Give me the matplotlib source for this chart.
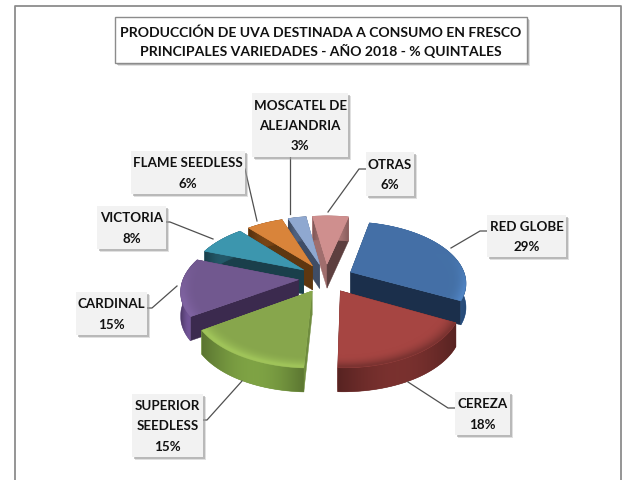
import numpy as np
import matplotlib
matplotlib.use("Agg")
import matplotlib.pyplot as plt
from matplotlib.colors import to_rgb
from matplotlib.patches import Polygon, Rectangle

# values, clockwise from the top
categories = ["RED GLOBE", "CEREZA", "SUPERIOR\nSEEDLESS", "CARDINAL", "VICTORIA",
              "FLAME SEEDLESS", "MOSCATEL DE\nALEJANDRIA", "OTRAS"]
values = [29, 18, 15, 15, 8, 6, 3, 6]

title = "PRODUCCIÓN DE UVA DESTINADA A CONSUMO EN FRESCO\nPRINCIPALES VARIEDADES - AÑO 2018 - % QUINTALES"

# slice colours: top, outer wall, first cut face, last cut face, rim light
top_colors = ["#4470a6", "#a64542", "#87a64c", "#71588f", "#3d96ae", "#da843b", "#8fa8d0", "#cf8f8e"]
wall_colors = ["#2f5a90", "#6b2b29", "#6f8f3c", "#644a85", "#1f4e5c", "#6a3c12", "#47566f", "#a06e6d"]
cut_first = ["#1b2f4b", "#4b1e1c", "#6f8c3e", "#3b2a4e", "#1a3f4b", "#5e3710", "#3f4d66", "#a06e6d"]
cut_last = ["#1b2f4b", "#4b1e1c", "#6f8c3e", "#3b2a4e", "#1a3f4b", "#5e3710", "#3f4d66", "#5d3f3f"]
rim_gain = [1.18, 0.75, 1.18, 1.12, 1.0, 1.0, 1.0, 1.0]

# box layout in pixels: x0, y0, x1, y1
boxes = [(487, 216, 566, 258), (455, 393, 510, 436), (132, 395, 203, 458), (76, 293, 147, 336),
         (97, 207, 166, 250), (131, 152, 245, 195), (252, 94, 348, 158), (366, 153, 414, 197)]
leaders = [[(487, 232), (480, 232), (451, 249)],
           [(455, 409), (448, 409), (408, 383)],
           [(203, 421), (207, 421), (242, 382)],
           [(147, 309), (152, 309), (177, 287)],
           [(166, 223), (170, 223), (213, 240)],
           [(245, 170), (257, 222)],
           [(290, 158), (290, 215)],
           [(366, 170), (359, 170), (328, 213)]]

W, H = 624, 481
CX, CY = 326, 279
A, B, K = 115, 60, 0.16
DEPTH = 24
EXPLODE = 0.24
START = 13

plt.rcParams['font.family'] = ['Lato', 'DejaVu Sans']

fig = plt.figure(figsize=(W / 100, H / 100), dpi=100)
ax = fig.add_axes([0, 0, 1, 1])
ax.set_xlim(0, W)
ax.set_ylim(H, 0)
ax.axis("off")


def project(u, v, drop=0.0):
    # disc coordinates to pixels, v points at the viewer
    d = 1 - K * v
    return CX + A * u / d, CY + B * v / d + drop


def unproject(x, y):
    yy = (y - CY) / B
    v = yy / (1 + K * yy)
    return (x - CX) / A * (1 - K * v), v


def painted(pts, rgb, z):
    # image clipped to a polygon, with the polygon under it for a clean edge
    xs, ys = pts[:, 0], pts[:, 1]
    base = rgb.reshape(-1, 3).mean(axis=0)
    ax.add_patch(Polygon(pts, fc=base, ec=base, lw=0.4, zorder=z))
    im = ax.imshow(rgb, extent=(xs.min(), xs.max(), ys.max(), ys.min()), aspect="auto",
                   interpolation="bilinear", zorder=z + 0.1)
    im.set_clip_path(Polygon(pts, transform=ax.transData))


def draw_slice(a0, a1, i, z):
    mid = np.radians((a0 + a1) / 2)
    ox, oy = EXPLODE * np.sin(mid), -EXPLODE * np.cos(mid)
    t = np.radians(np.linspace(a0, a1, 80))
    us, vs = ox + np.sin(t), oy - np.cos(t)
    apex_top = project(ox, oy)
    apex_bot = project(ox, oy, DEPTH)

    # cut faces
    for end, color in ((0, cut_first[i]), (-1, cut_last[i])):
        quad = [apex_top, project(us[end], vs[end]), project(us[end], vs[end], DEPTH), apex_bot]
        ax.add_patch(Polygon(quad, fc=color, ec=color, lw=0.3, zorder=z))

    # outer wall, lighter towards its middle
    tx, ty = project(us, vs)
    wall = np.column_stack([np.r_[tx, tx[::-1]], np.r_[ty, ty[::-1] + DEPTH]])
    n = max(int(np.ptp(wall[:, 0])), 2)
    f = 0.82 + 0.32 * np.sin(np.linspace(0, np.pi, n))
    strip = np.clip(np.outer(f, to_rgb(wall_colors[i])), 0, 1)[None, :, :]
    painted(wall, strip, z + 0.2)

    # top face, rim shading worked out per pixel
    face = np.column_stack([np.r_[apex_top[0], tx], np.r_[apex_top[1], ty]])
    x0, x1, y0, y1 = face[:, 0].min(), face[:, 0].max(), face[:, 1].min(), face[:, 1].max()
    gx, gy = np.meshgrid(np.linspace(x0, x1, int(x1 - x0) * 2 + 2), np.linspace(y0, y1, int(y1 - y0) * 2 + 2))
    gu, gv = unproject(gx, gy)
    r = np.hypot(gu - ox, gv - oy)
    front = np.clip((gv - oy) * 1.6 + 0.5, 0, 1)
    edge = np.clip((r - 0.86) / 0.12, 0, 1) ** 2
    gain = 1 + (rim_gain[i] - 1) * edge * front
    rgb = np.clip(np.dstack([gain] * 3) * np.array(to_rgb(top_colors[i])), 0, 1)
    painted(face, rgb, z + 0.4)


# cumulative angles from the values, painted from back to front
shares = np.array(values) / sum(values) * 360
edges = START + np.r_[0, np.cumsum(shares)]
order = [7, 6, 5, 4, 0, 3, 1, 2]
for n, i in enumerate(order):
    draw_slice(edges[i], edges[i + 1], i, 2 + n)

ax.set_xlim(0, W)
ax.set_ylim(H, 0)

# frame, open at the bottom
ax.plot([14.5, 14.5, 620.5, 620.5], [H, 6.5, 6.5, H], color="#8c8c8c", lw=1.3, zorder=1)

# title box
for off, alpha in ((3, 0.25), (2, 0.5)):
    ax.add_patch(Rectangle((115 + off, 18 + off), 412, 46, fc="#8a8a8a", ec="none", alpha=alpha, zorder=40))
ax.add_patch(Rectangle((115, 18), 412, 46, fc="white", ec="#8c8c8c", lw=1, zorder=41))
ax.text(321, 42.5, title, ha="center", va="center", fontsize=10.1, fontweight="bold",
        color="#111111", linespacing=1.45, zorder=42)

# data labels with their leader lines
for name, val, (x0, y0, x1, y1), line in zip(categories, values, boxes, leaders):
    lx, ly = zip(*line)
    ax.plot(lx, ly, color="#505050", lw=0.9, zorder=39)
    for off, alpha in ((3, 0.3), (2, 0.55)):
        ax.add_patch(Rectangle((x0 + off, y0 + off), x1 - x0, y1 - y0, fc="#9a9a9a", ec="none", alpha=alpha, zorder=40))
    ax.add_patch(Rectangle((x0, y0), x1 - x0, y1 - y0, fc="#f2f2f2", ec="none", zorder=41))
    ax.text((x0 + x1) / 2, (y0 + y1) / 2, f"{name}\n{val}%", ha="center", va="center", fontsize=9.6,
            fontweight="bold", color="#111111", linespacing=1.85, zorder=42)

fig.savefig("out.png", dpi=100)
